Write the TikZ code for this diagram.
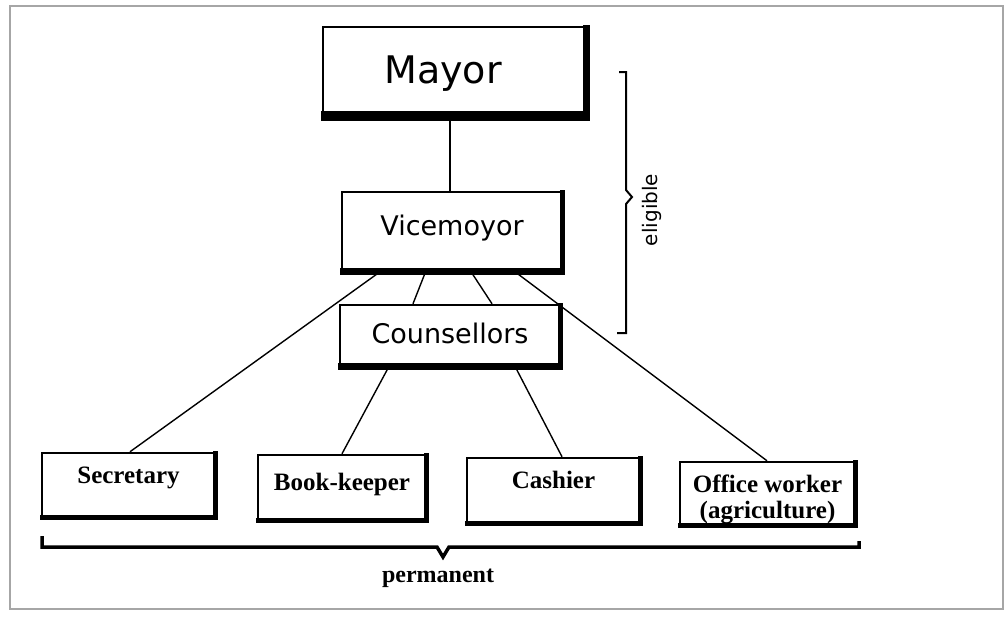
\documentclass[tikz,border=0pt]{standalone}
\usepackage{fontspec}
\setmainfont{Liberation Serif}
\newfontfamily\boxsans{DejaVu Sans}
\usetikzlibrary{calc}
\newcommand\boxshade[3]{%
  \fill ($(#1.south west)+(-1.25,1.25)$) rectangle ($(#1.south east)+(1.25,1.25-#2)$);
  \fill ($(#1.north east)+(1.25,-1.25)$) rectangle ($(#1.south east)+(1.25-#3,1.25)$);
}
\tikzset{
  orgbox/.style={draw, line width=2.5pt, inner sep=0pt, fill=white},
  topbox/.style={orgbox, font=\boxsans},
  lowbox/.style={orgbox, font=\fontsize{25pt}{26pt}\selectfont\bfseries},
  link/.style={line width=1.4pt},
  bracket/.style={line width=2pt},
}
\begin{document}
\begin{tikzpicture}[x=1pt,y=-1pt]
\useasboundingbox (0,0) rectangle (1005,619);
\draw[gray!70, line width=1.5pt] (10,6) rectangle (1003,609);

% top boxes
\node[topbox, minimum width=264, minimum height=91, font=\boxsans\fontsize{38pt}{40pt}\selectfont,
      text height=27pt, text depth=5pt] (mayor) at (455,72.5) {Mayor\kern24pt};
\node[topbox, minimum width=220, minimum height=80, font=\boxsans\fontsize{27pt}{29pt}\selectfont,
      text height=20pt, text depth=14pt] (vice) at (452,232) {Vicemoyor};
\node[topbox, minimum width=220, minimum height=62, font=\boxsans\fontsize{27pt}{29pt}\selectfont,
      text height=20pt, text depth=6pt] (couns) at (450,336) {Counsellors};

% bottom boxes
\node[lowbox, minimum width=173, minimum height=64, text height=18pt, text depth=22pt] (secr) at (128.5,485) {Secretary};
\node[lowbox, minimum width=168, minimum height=65, text height=20pt, text depth=15pt] (book) at (342,487.5) {Book-keeper};
\node[lowbox, minimum width=173, minimum height=65, text height=18pt, text depth=23pt] (cash) at (553.5,490.5) {Cashier};
\node[lowbox, minimum width=175, minimum height=63] (office) at (767.5,493.5)
  {\raisebox{0pt}[55pt][6pt]{\setlength{\tabcolsep}{0pt}\begin{tabular}[b]{c}Office worker\\(agriculture)\end{tabular}}};

% heavy bottom/right edges
\boxshade{mayor}{10}{7}
\boxshade{vice}{7}{5}
\boxshade{couns}{7}{5}
\boxshade{secr}{5}{5}
\boxshade{book}{5}{5}
\boxshade{cash}{5}{5}
\boxshade{office}{5}{5}

% connectors
\draw[link] (mayor.south -| 450,0) -- (vice.north -| 450,0);
\draw[link] (vice.south -| 378,0) -- (secr.north -| 130,0);
\draw[link] (vice.south -| 425,0) -- (couns.north -| 413,0);
\draw[link] (vice.south -| 472,0) -- (couns.north -| 492,0);
\draw[link] (vice.south -| 517,0) -- (office.north -| 767,0);
\draw[link] (couns.south -| 388,0) -- (book.north -| 342,0);
\draw[link] (couns.south -| 516,0) -- (cash.north -| 562,0);

% eligible bracket
\draw[bracket] (619,72) -- (626,72) -- (626,190) -- (632,197) -- (626,204) -- (626,333) -- (617,333);
\node[font=\boxsans\fontsize{20pt}{22pt}\selectfont, rotate=90] (elig) at (652,210) {eligible};

% permanent bracket
\draw[line width=3.5pt] (42,536) -- (42,547) -- (437,547) -- (443,557) -- (449,547) -- (859,547) -- (859,541);
\node[font=\fontsize{24pt}{26pt}\selectfont\bfseries] (perm) at (438,578) {permanent};
\end{tikzpicture}
\end{document}
